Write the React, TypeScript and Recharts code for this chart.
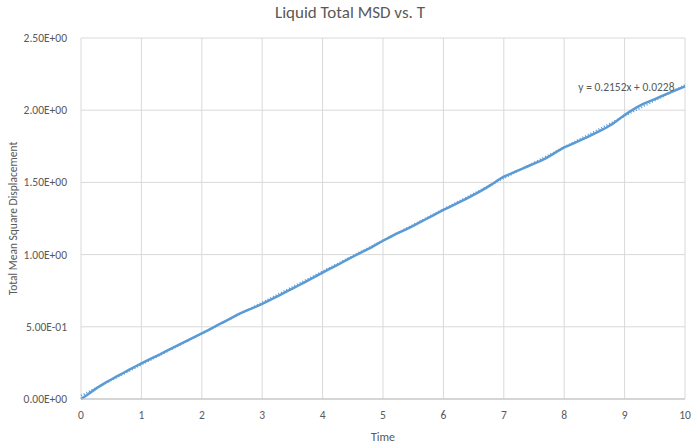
import { LineChart, Line, XAxis, YAxis, CartesianGrid, ReferenceLine, ReferenceDot } from "recharts";

const times = [
  0.0, 0.1, 0.2, 0.3, 0.4, 0.5, 0.6, 0.7, 0.8, 0.9,
  1.0, 1.1, 1.2, 1.3, 1.4, 1.5, 1.6, 1.7, 1.8, 1.9,
  2.0, 2.1, 2.2, 2.3, 2.4, 2.5, 2.6, 2.7, 2.8, 2.9,
  3.0, 3.1, 3.2, 3.3, 3.4, 3.5, 3.6, 3.7, 3.8, 3.9,
  4.0, 4.1, 4.2, 4.3, 4.4, 4.5, 4.6, 4.7, 4.8, 4.9,
  5.0, 5.1, 5.2, 5.3, 5.4, 5.5, 5.6, 5.7, 5.8, 5.9,
  6.0, 6.1, 6.2, 6.3, 6.4, 6.5, 6.6, 6.7, 6.8, 6.9,
  7.0, 7.1, 7.2, 7.3, 7.4, 7.5, 7.6, 7.7, 7.8, 7.9,
  8.0, 8.1, 8.2, 8.3, 8.4, 8.5, 8.6, 8.7, 8.8, 8.9,
  9.0, 9.1, 9.2, 9.3, 9.4, 9.5, 9.6, 9.7, 9.8, 9.9,
  10.0,
];

const msd = [
  0.000, 0.028, 0.058, 0.086, 0.112, 0.135, 0.158, 0.180, 0.203, 0.225,
  0.247, 0.267, 0.288, 0.308, 0.329, 0.350, 0.371, 0.392, 0.413, 0.434,
  0.455, 0.476, 0.498, 0.520, 0.541, 0.564, 0.586, 0.605, 0.622, 0.640,
  0.658, 0.679, 0.700, 0.721, 0.743, 0.765, 0.786, 0.808, 0.830, 0.853,
  0.875, 0.897, 0.918, 0.940, 0.963, 0.985, 1.006, 1.027, 1.049, 1.072,
  1.096, 1.118, 1.140, 1.159, 1.178, 1.199, 1.221, 1.243, 1.265, 1.287,
  1.309, 1.329, 1.349, 1.370, 1.391, 1.413, 1.436, 1.460, 1.486, 1.515,
  1.540, 1.558, 1.576, 1.594, 1.612, 1.630, 1.648, 1.668, 1.692, 1.718,
  1.742, 1.760, 1.779, 1.798, 1.817, 1.837, 1.858, 1.880, 1.905, 1.935,
  1.966, 1.994, 2.020, 2.042, 2.060, 2.077, 2.095, 2.113, 2.130, 2.148,
  2.165,
];

const xTicks = [0, 1, 2, 3, 4, 5, 6, 7, 8, 9, 10];
const yTicks = [0, 0.5, 1.0, 1.5, 2.0, 2.5];

// linear trendline shown on the chart
const slope = 0.2152;
const intercept = 0.0228;

const data = times.map((t, i) => ({ t, msd: msd[i] }));

const FONT = "Carlito, Calibri, Lato, sans-serif";
const GREY = "#595959";

function sci(v: number) {
  if (v === 0) return "0.00E+00";
  const exp = Math.floor(Math.log10(Math.abs(v)) + 1e-9);
  const mant = v / Math.pow(10, exp);
  const sign = exp < 0 ? "-" : "+";
  return `${mant.toFixed(2)}E${sign}${String(Math.abs(exp)).padStart(2, "0")}`;
}

export default function App() {
  return (
    <div style={{ position: "absolute", left: 0, top: 0, width: 700, height: 448, background: "#fff", fontFamily: FONT }}>
      <div
        style={{
          position: "absolute",
          top: 2,
          left: 0,
          width: 700,
          textAlign: "center",
          fontSize: 17,
          color: GREY,
        }}
      >
        Liquid Total MSD vs. T
      </div>
      <LineChart width={700} height={448} data={data} margin={{ top: 38, right: 15, bottom: 0, left: 0 }}>
        <CartesianGrid stroke="#d9d9d9" strokeWidth={1} />
        <XAxis
          dataKey="t"
          type="number"
          domain={[0, 10]}
          ticks={xTicks}
          height={49}
          tickLine={false}
          axisLine={{ stroke: "#bfbfbf" }}
          tick={{ fill: GREY, fontSize: 11.5, fontFamily: FONT }}
          tickMargin={6}
          label={{ value: "Time", position: "insideBottom", offset: 7, fill: GREY, fontSize: 12, fontFamily: FONT }}
        />
        <YAxis
          type="number"
          domain={[0, 2.5]}
          ticks={yTicks}
          width={81}
          tickLine={false}
          axisLine={false}
          tickFormatter={sci}
          tick={{ fill: GREY, fontSize: 11.5, fontFamily: FONT }}
          tickMargin={8}
          label={{
            value: "Total Mean Square Displacement",
            angle: -90,
            position: "insideLeft",
            offset: 13,
            style: { textAnchor: "middle" },
            fill: GREY,
            fontSize: 11.5,
            fontFamily: FONT,
          }}
        />
        <ReferenceLine
          segment={[
            { x: 0, y: intercept },
            { x: 10, y: slope * 10 + intercept },
          ]}
          stroke="#5B9BD5"
          strokeWidth={2}
          strokeDasharray="1 2"
        />
        <Line
          type="linear"
          dataKey="msd"
          stroke="#5B9BD5"
          strokeWidth={2.5}
          dot={false}
          isAnimationActive={false}
        />
        <ReferenceDot
          x={9.03}
          y={2.16}
          r={0}
          fill="none"
          stroke="none"
          label={{ value: "y = 0.2152x + 0.0228", position: "center", fill: GREY, fontSize: 11.5, fontFamily: FONT }}
        />
      </LineChart>
    </div>
  );
}
